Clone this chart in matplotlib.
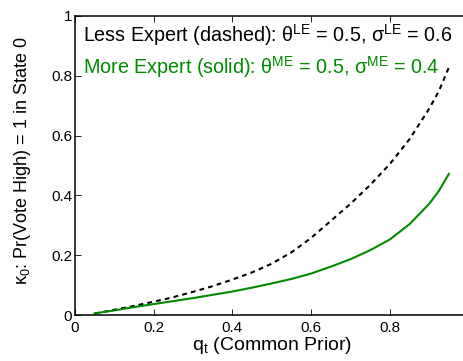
import numpy as np
import matplotlib
matplotlib.use("Agg")
import matplotlib.pyplot as plt

# Data
q_prior = [0.05, 0.10, 0.15, 0.20, 0.25, 0.30, 0.35, 0.40, 0.45, 0.50,
           0.55, 0.60, 0.65, 0.70, 0.75, 0.80, 0.85, 0.90, 0.925, 0.95]
kappa_less = [0.005, 0.018, 0.031, 0.045, 0.060, 0.078, 0.097, 0.119, 0.143, 0.172,
              0.210, 0.258, 0.315, 0.372, 0.435, 0.505, 0.588, 0.690, 0.750, 0.828]
kappa_more = [0.006, 0.016, 0.027, 0.037, 0.047, 0.057, 0.068, 0.079, 0.092, 0.106,
              0.121, 0.139, 0.162, 0.187, 0.217, 0.253, 0.304, 0.372, 0.416, 0.472]
xticks = [0, 0.2, 0.4, 0.6, 0.8]
yticks = [0, 0.2, 0.4, 0.6, 0.8, 1]

plt.rcParams['font.family'] = ['Liberation Sans', 'DejaVu Sans']
plt.rcParams['mathtext.fontset'] = 'custom'
plt.rcParams['mathtext.rm'] = 'Liberation Sans'
plt.rcParams['mathtext.it'] = 'Liberation Sans'

green = '#008a00'

fig = plt.figure(figsize=(4.63, 3.61), dpi=100)
ax = fig.add_axes([0.162, 0.127, 0.85, 0.829])

ax.plot(q_prior, kappa_less, color='black', linewidth=1.5, dashes=(2.3, 2.0))
ax.plot(q_prior, kappa_more, color=green, linewidth=1.5)

ax.set_xlim(0, 1)
ax.set_ylim(0, 1)
ax.set_xticks(xticks)
ax.set_yticks(yticks)
ax.set_xticklabels(['0', '0.2', '0.4', '0.6', '0.8'])
ax.set_yticklabels(['0', '0.2', '0.4', '0.6', '0.8', '1'])
ax.tick_params(direction='in', length=4, width=0.6, labelsize=11,
               top=True, right=True, pad=2)
ax.tick_params(axis='x', pad=4)
for s in ax.spines.values():
    s.set_linewidth(1.1)

ax.set_xlabel('q$_\\mathrm{t}$ (Common Prior)', fontsize=14, labelpad=0)
ax.set_ylabel('\u03ba$_\\mathrm{0}$: Pr(Vote High) = 1 in State 0', fontsize=13)
ax.yaxis.set_label_coords(-0.108, 0.515)

ax.text(0.02, 0.913, 'Less Expert (dashed): \u03b8$^\\mathrm{LE}$ = 0.5, \u03c3$^\\mathrm{LE}$ = 0.6',
        fontsize=14.2, color='black', va='baseline')
ax.text(0.02, 0.805, 'More Expert (solid): \u03b8$^\\mathrm{ME}$ = 0.5, \u03c3$^\\mathrm{ME}$ = 0.4',
        fontsize=14.2, color=green, va='baseline')

fig.savefig('out.png', dpi=100)
